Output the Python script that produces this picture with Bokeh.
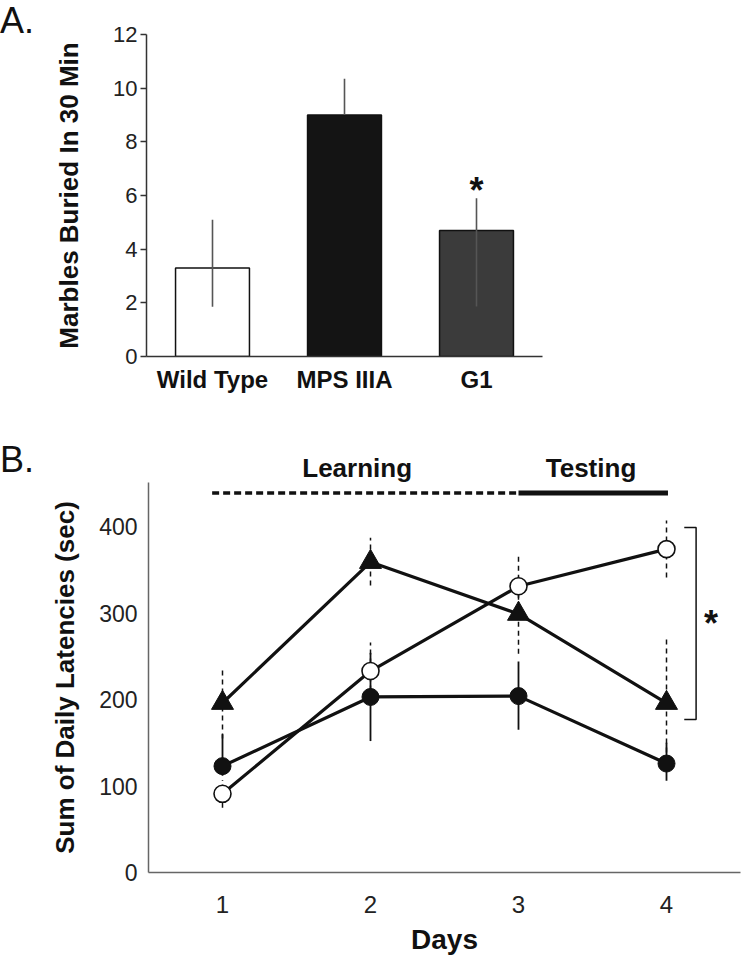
from bokeh.plotting import figure
from bokeh.models import Range1d, FactorRange, FixedTicker, LinearAxis, Div
from bokeh.layouts import row
from bokeh.embed import file_html
from bokeh.resources import INLINE
from bokeh.core.properties import value

FONT = "Liberation Sans"

# ---------------- Panel A data ----------------
groups = ["Wild Type", "MPS IIIA", "G1"]
marbles = [3.3, 9.0, 4.7]
marbles_lo = [1.85, 9.0, 1.86]
marbles_hi = [5.1, 10.35, 5.9]
bar_colors = ["#ffffff", "#141414", "#3b3b3b"]
a_ticks = [0, 2, 4, 6, 8, 10, 12]

# ---------------- Panel B data ----------------
days = [1, 2, 3, 4]
tri = [196, 359, 299, 196]
tri_lo = [155, 332, 253, 118]
tri_hi = [235, 387, 345, 272]
open_c = [91, 233, 331, 374]
open_lo = [75, 200, 297, 341]
open_hi = [107, 266, 365, 407]
filled = [123, 203, 204, 126]
filled_lo = [112, 152, 165, 106]
filled_hi = [160, 254, 244, 150]
b_ticks = [0, 100, 200, 300, 400]
phase_names = ["Learning", "Testing"]
phase_centers = [1.91, 3.49]
learning_span = [0.93, 3.0]
testing_span = [3.0, 4.01]
phase_level = 439
bracket_x = [4.12, 4.2, 4.2, 4.12]
bracket_y = [399, 399, 177, 177]
star_b = (4.3, 288)


def panel_letter(letter, top):
    return Div(text=f'<div style="font-family:\'{FONT}\'; font-size:36px; line-height:36px; '
                    f'color:#111111; margin-top:{top}px; margin-left:0px">{letter}</div>',
               width=40, margin=(0, 0, 0, 0))


# ================= Panel A =================
pA = figure(width=710, height=438, x_range=FactorRange(*groups, range_padding=0),
            y_range=Range1d(0, 12), output_backend="svg", toolbar_location=None,
            min_border_left=106, min_border_right=208, min_border_top=34, min_border_bottom=82)
pA.outline_line_color = None
pA.grid.visible = False

pA.vbar(x=groups, top=marbles, width=0.56, fill_color=bar_colors,
        line_color="#111111", line_width=1.5)
pA.segment(x0=groups, y0=marbles_lo, x1=groups, y1=marbles_hi,
           line_color="#555555", line_width=1.6)
pA.text(x=["G1"], y=[marbles_hi[2]], text=["*"], text_align="center",
        text_baseline="alphabetic", y_offset=-8, text_font=value(FONT),
        text_font_style="bold", text_font_size="36px", text_color="#111111")

pA.yaxis.ticker = FixedTicker(ticks=a_ticks)
pA.yaxis.minor_tick_line_color = None
pA.yaxis.major_tick_out = 6
pA.yaxis.major_tick_in = 0
pA.yaxis.major_label_standoff = 3
pA.yaxis.major_label_text_font = FONT
pA.yaxis.major_label_text_font_size = "22px"
pA.yaxis.major_label_text_color = "#222222"
pA.yaxis.axis_line_color = "#333333"
pA.yaxis.axis_line_width = 1.5
pA.yaxis.major_tick_line_color = "#333333"
pA.yaxis.major_tick_line_width = 1.5
pA.yaxis.axis_label = "Marbles Buried In 30 Min"
pA.yaxis.axis_label_text_font = FONT
pA.yaxis.axis_label_text_font_style = "bold"
pA.yaxis.axis_label_text_font_size = "26px"
pA.yaxis.axis_label_text_color = "#111111"
pA.yaxis.axis_label_standoff = 26

pA.xaxis.major_tick_line_color = None
pA.xaxis.minor_tick_line_color = None
pA.xaxis.major_label_standoff = 3
pA.xaxis.major_label_text_font = FONT
pA.xaxis.major_label_text_font_style = "bold"
pA.xaxis.major_label_text_font_size = "24px"
pA.xaxis.major_label_text_color = "#111111"
pA.xaxis.axis_line_color = "#333333"
pA.xaxis.axis_line_width = 1.5

# ================= Panel B =================
pB = figure(width=710, height=526, x_range=Range1d(0.5, 4.5), y_range=Range1d(0, 451),
            output_backend="svg", toolbar_location=None,
            min_border_left=108, min_border_right=10, min_border_top=44, min_border_bottom=92)
pB.outline_line_color = None
pB.grid.visible = False

# error bars
pB.segment(x0=days, y0=tri_lo, x1=days, y1=tri_hi, line_color="#111111",
           line_width=1.5, line_dash="5 4")
pB.segment(x0=days, y0=open_lo, x1=days, y1=open_hi, line_color="#111111",
           line_width=1.5, line_dash="5 4")
pB.segment(x0=days, y0=filled_lo, x1=days, y1=filled_hi, line_color="#111111",
           line_width=1.8)

# lines
for ys in (tri, open_c, filled):
    pB.line(days, ys, line_color="#111111", line_width=3.2)

# markers
pB.scatter(days, tri, marker="triangle", size=22, fill_color="#111111",
           line_color="#111111", line_width=1)
pB.scatter(days, filled, marker="circle", size=17, fill_color="#111111",
           line_color="#111111", line_width=1)
pB.scatter(days, open_c, marker="circle", size=17, fill_color="#ffffff",
           line_color="#111111", line_width=1.6)

# Learning / Testing phase bars
pB.line(learning_span, [phase_level] * 2, line_color="#111111", line_width=3.5, line_dash="7 4")
pB.line(testing_span, [phase_level] * 2, line_color="#111111", line_width=5)

# significance bracket
pB.line(bracket_x, bracket_y, line_color="#111111", line_width=1.5)
pB.text(x=[star_b[0]], y=[star_b[1]], text=["*"], text_align="center",
        text_baseline="alphabetic", text_font=value(FONT), text_font_style="bold",
        text_font_size="36px", text_color="#111111")

# bottom axis (Days)
bx = pB.below[0]
bx.ticker = FixedTicker(ticks=days)
bx.major_tick_out = 0
bx.major_tick_in = 0
bx.minor_tick_line_color = None
bx.major_label_standoff = 23
bx.major_label_text_font = FONT
bx.major_label_text_font_size = "24px"
bx.major_label_text_color = "#222222"
bx.axis_line_color = "#666666"
bx.axis_line_width = 1.5
bx.axis_label = "Days"
bx.axis_label_text_font = FONT
bx.axis_label_text_font_style = "bold"
bx.axis_label_text_font_size = "28px"
bx.axis_label_text_color = "#111111"
bx.axis_label_standoff = 8

# phase names as an upper axis (drawn outside the plot frame)
phase_axis = LinearAxis(ticker=FixedTicker(ticks=phase_centers),
                        major_label_overrides=dict(zip(phase_centers, phase_names)))
phase_axis.axis_line_color = None
phase_axis.major_tick_line_color = None
phase_axis.minor_tick_line_color = None
phase_axis.major_tick_out = 0
phase_axis.major_tick_in = 0
phase_axis.major_label_standoff = 0
phase_axis.major_label_text_font = FONT
phase_axis.major_label_text_font_style = "bold"
phase_axis.major_label_text_font_size = "26px"
phase_axis.major_label_text_color = "#111111"
pB.add_layout(phase_axis, "above")

ly = pB.left[0]
ly.ticker = FixedTicker(ticks=b_ticks)
ly.major_tick_out = 0
ly.major_tick_in = 0
ly.minor_tick_line_color = None
ly.major_label_standoff = 11
ly.major_label_text_font = FONT
ly.major_label_text_font_size = "23px"
ly.major_label_text_color = "#222222"
ly.axis_line_color = "#666666"
ly.axis_line_width = 1.5
ly.axis_label = "Sum of Daily Latencies (sec)"
ly.axis_label_text_font = FONT
ly.axis_label_text_font_style = "bold"
ly.axis_label_text_font_size = "26px"
ly.axis_label_text_color = "#111111"
ly.axis_label_standoff = 16

rowA = row(panel_letter("A.", 3), pA, spacing=0)
rowB = row(panel_letter("B.", 4), pB, spacing=0)

open("out.html", "w").write(file_html([rowA, rowB], INLINE))
